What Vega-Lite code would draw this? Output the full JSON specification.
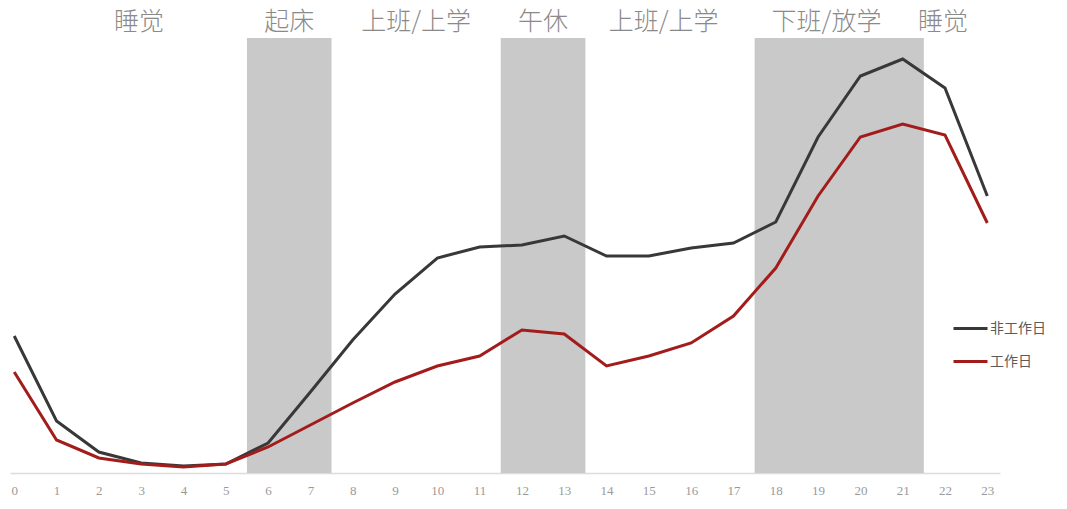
{
  "$schema": "https://vega.github.io/schema/vega-lite/v6.json",
  "width": 990,
  "height": 435,
  "autosize": {"type": "none"},
  "padding": {"left": 10, "top": 38, "right": 67, "bottom": 36},
  "background": "#ffffff",
  "config": {"view": {"stroke": null}},
  "datasets": {
    "bands": [
      {"h": 5.5, "h2": 7.5},
      {"h": 11.5, "h2": 13.5},
      {"h": 17.5, "h2": 21.5}
    ],
    "labels": [
      {"h": 2.95, "t": "睡觉"},
      {"h": 6.5, "t": "起床"},
      {"h": 9.5, "t": "上班/上学"},
      {"h": 12.5, "t": "午休"},
      {"h": 15.35, "t": "上班/上学"},
      {"h": 19.2, "t": "下班/放学"},
      {"h": 21.95, "t": "睡觉"}
    ],
    "series": [
      {"h": 0, "s": "非工作日", "v": 137}, {"h": 1, "s": "非工作日", "v": 52}, {"h": 2, "s": "非工作日", "v": 21},
      {"h": 3, "s": "非工作日", "v": 10}, {"h": 4, "s": "非工作日", "v": 7}, {"h": 5, "s": "非工作日", "v": 9},
      {"h": 6, "s": "非工作日", "v": 30}, {"h": 7, "s": "非工作日", "v": 81}, {"h": 8, "s": "非工作日", "v": 133},
      {"h": 9, "s": "非工作日", "v": 179}, {"h": 10, "s": "非工作日", "v": 215}, {"h": 11, "s": "非工作日", "v": 226},
      {"h": 12, "s": "非工作日", "v": 228}, {"h": 13, "s": "非工作日", "v": 237}, {"h": 14, "s": "非工作日", "v": 217},
      {"h": 15, "s": "非工作日", "v": 217}, {"h": 16, "s": "非工作日", "v": 225}, {"h": 17, "s": "非工作日", "v": 230},
      {"h": 18, "s": "非工作日", "v": 251}, {"h": 19, "s": "非工作日", "v": 336}, {"h": 20, "s": "非工作日", "v": 397},
      {"h": 21, "s": "非工作日", "v": 414}, {"h": 22, "s": "非工作日", "v": 385}, {"h": 23, "s": "非工作日", "v": 277},
      {"h": 0, "s": "工作日", "v": 101}, {"h": 1, "s": "工作日", "v": 33}, {"h": 2, "s": "工作日", "v": 15},
      {"h": 3, "s": "工作日", "v": 9}, {"h": 4, "s": "工作日", "v": 6}, {"h": 5, "s": "工作日", "v": 9},
      {"h": 6, "s": "工作日", "v": 26}, {"h": 7, "s": "工作日", "v": 48}, {"h": 8, "s": "工作日", "v": 70},
      {"h": 9, "s": "工作日", "v": 91}, {"h": 10, "s": "工作日", "v": 107}, {"h": 11, "s": "工作日", "v": 117},
      {"h": 12, "s": "工作日", "v": 143}, {"h": 13, "s": "工作日", "v": 139}, {"h": 14, "s": "工作日", "v": 107},
      {"h": 15, "s": "工作日", "v": 117}, {"h": 16, "s": "工作日", "v": 130}, {"h": 17, "s": "工作日", "v": 157},
      {"h": 18, "s": "工作日", "v": 205}, {"h": 19, "s": "工作日", "v": 277}, {"h": 20, "s": "工作日", "v": 336},
      {"h": 21, "s": "工作日", "v": 349}, {"h": 22, "s": "工作日", "v": 338}, {"h": 23, "s": "工作日", "v": 250}
    ]
  },
  "layer": [
    {
      "data": {"name": "bands"},
      "mark": {"type": "rect", "color": "#c9c9c9"},
      "encoding": {
        "x": {
          "field": "h", "type": "quantitative",
          "scale": {"domain": [-0.1, 23.3], "nice": false, "zero": false},
          "axis": {
            "values": [0,1,2,3,4,5,6,7,8,9,10,11,12,13,14,15,16,17,18,19,20,21,22,23],
            "title": null, "ticks": false, "grid": false,
            "labelFont": "Liberation Serif", "labelFontSize": 13, "labelColor": "#9a9a9a",
            "labelPadding": 11, "domainColor": "#dcdcdc", "domainWidth": 1.5
          }
        },
        "x2": {"field": "h2"}
      }
    },
    {
      "data": {"name": "labels"},
      "mark": {"type": "text", "font": "Noto Sans CJK SC", "fontSize": 25, "fontWeight": 300, "color": "#8a8a8a", "align": "center", "baseline": "middle", "clip": false},
      "encoding": {
        "x": {"field": "h", "type": "quantitative"},
        "y": {"datum": 451, "type": "quantitative", "scale": {"domain": [0, 435], "nice": false, "zero": false}, "axis": null},
        "text": {"field": "t"}
      }
    },
    {
      "data": {"name": "series"},
      "mark": {"type": "line", "strokeWidth": 3, "interpolate": "linear"},
      "encoding": {
        "x": {"field": "h", "type": "quantitative"},
        "y": {"field": "v", "type": "quantitative", "axis": null},
        "color": {
          "field": "s", "type": "nominal",
          "scale": {"domain": ["非工作日", "工作日"], "range": ["#383838", "#a31c1c"]},
          "legend": {
            "title": null, "orient": "none", "legendX": 942, "legendY": 272,
            "symbolType": "stroke", "symbolSize": 1156, "symbolStrokeWidth": 3,
            "labelFont": "Noto Sans CJK SC", "labelFontSize": 14, "labelColor": "#5a5a5a",
            "labelOffset": 1, "rowPadding": 7
          }
        },
        "order": {"field": "h", "type": "quantitative"}
      }
    }
  ]
}
